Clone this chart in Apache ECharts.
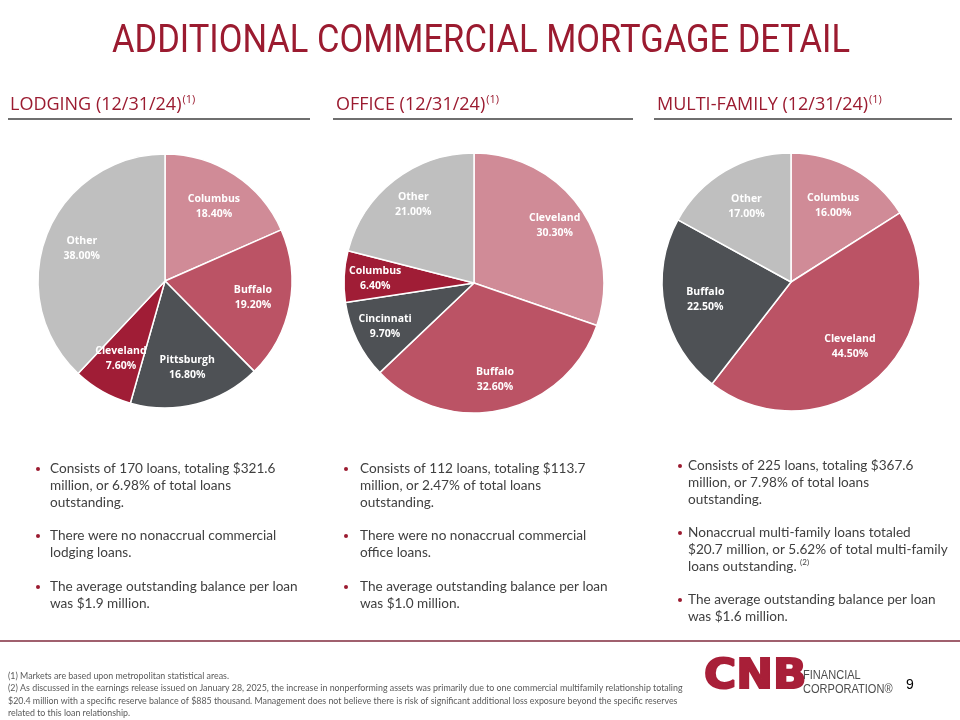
<!DOCTYPE html>
<html>
<head>
<meta charset="utf-8">
<script src="https://cdn.jsdelivr.net/npm/echarts@6/dist/echarts.min.js"></script>
<style>
html,body{margin:0;padding:0;background:#fff;}
#chart{width:960px;height:720px;}
</style>
</head>
<body>
<div id="chart"></div>
<script>
// ---- Data ----
const lodgingCats = ['Columbus', 'Buffalo', 'Pittsburgh', 'Cleveland', 'Other'];
const lodgingVals = [18.4, 19.2, 16.8, 7.6, 38.0];
const officeCats = ['Cleveland', 'Buffalo', 'Cincinnati', 'Columbus', 'Other'];
const officeVals = [30.3, 32.6, 9.7, 6.4, 21.0];
const multiCats = ['Columbus', 'Cleveland', 'Buffalo', 'Other'];
const multiVals = [16.0, 44.5, 22.5, 17.0];

const sectionTitles = ['LODGING (12/31/24)', 'OFFICE (12/31/24)', 'MULTI-FAMILY (12/31/24)'];

// ---- Styles ----
const LIGHT = '#d08b97', MED = '#bb5365', DARK = '#4e5155', DEEP = '#a01d36', GREY = '#bfbfbf';
const RED = '#9b1b30';
const lodgingColors = [LIGHT, MED, DARK, DEEP, GREY];
const officeColors = [LIGHT, MED, DARK, DEEP, GREY];
const multiColors = [LIGHT, MED, DARK, GREY];

function mk(cats, vals, colors) {
  return cats.map((c, i) => ({ name: c, value: vals[i], itemStyle: { color: colors[i] } }));
}

function pieSeries(cats, vals, colors, center, r, labelInner) {
  return [
    {
      type: 'pie', center: center, radius: [0, r], startAngle: 90, clockwise: true,
      data: mk(cats, vals, colors), label: { show: false }, labelLine: { show: false },
      itemStyle: { borderColor: '#fff', borderWidth: 1.5 }, silent: true, animation: false
    },
    {
      type: 'pie', center: center, radius: [labelInner, r], startAngle: 90, clockwise: true,
      data: cats.map((c, i) => ({ name: c, value: vals[i] })),
      itemStyle: { color: 'rgba(0,0,0,0)' }, silent: true, animation: false,
      labelLine: { show: false },
      label: {
        show: true, position: 'inside', color: '#fff', fontWeight: 'bold',
        fontFamily: 'Open Sans', fontSize: 10.5, lineHeight: 15,
        formatter: p => p.name + '\n' + p.value.toFixed(2) + '%'
      }
    }
  ];
}

const bodyFont = 'Lato';
const bulletText = [
  [
    ['Consists of 170 loans, totaling $321.6', 'million, or 6.98% of total loans', 'outstanding.'],
    ['There were no nonaccrual commercial', 'lodging loans.'],
    ['The average outstanding balance per loan', 'was $1.9 million.']
  ],
  [
    ['Consists of 112 loans, totaling $113.7', 'million, or 2.47% of total loans', 'outstanding.'],
    ['There were no nonaccrual commercial', 'office loans.'],
    ['The average outstanding balance per loan', 'was $1.0 million.']
  ],
  [
    ['Consists of 225 loans, totaling $367.6', 'million, or 7.98% of total loans', 'outstanding.'],
    ['Nonaccrual multi-family loans totaled', '$20.7 million, or 5.62% of total multi-family', 'loans outstanding. {sup|(2)}'],
    ['The average outstanding balance per loan', 'was $1.6 million.']
  ]
];
const bulletX = [38, 346, 680];
const bulletTextX = [50, 360, 688];
const bulletTops = [[460, 527, 578], [460, 527, 578], [457, 524, 591]];

const graphics = [];
// Title
graphics.push({
  type: 'text', x: 481, y: 23, scaleX: 0.885,
  style: { text: 'ADDITIONAL COMMERCIAL MORTGAGE DETAIL', fill: RED, align: 'center', verticalAlign: 'top',
    font: '39px "Roboto", sans-serif' }
});
// Section headers and underlines
const hdrX = [10, 336, 657];
const lineSeg = [[8, 310], [333, 633], [654, 952]];
for (let i = 0; i < 3; i++) {
  graphics.push({
    type: 'text', x: hdrX[i], y: 94,
    style: {
      text: sectionTitles[i] + '{sup|(1)}', fill: RED,
      font: '18px "Open Sans", sans-serif',
      rich: { sup: { fontSize: 11, fill: RED, fontFamily: 'Open Sans', verticalAlign: 'top', padding: [0, 0, 10, 1] } }
    }
  });
  graphics.push({
    type: 'line', shape: { x1: lineSeg[i][0], y1: 119, x2: lineSeg[i][1], y2: 119 },
    style: { stroke: '#6f6f6f', lineWidth: 2 }
  });
}
// Bullets
for (let c = 0; c < 3; c++) {
  bulletText[c].forEach((lines, b) => {
    const top = bulletTops[c][b];
    graphics.push({
      type: 'circle', shape: { cx: bulletX[c], cy: top + 9, r: 2 }, style: { fill: RED }
    });
    graphics.push({
      type: 'text', x: bulletTextX[c], y: top,
      style: {
        text: lines.join('\n'), fill: '#404040', font: '13.6px ' + bodyFont + ', sans-serif', lineHeight: 17,
        rich: { sup: { fontSize: 8, fill: '#404040', fontFamily: bodyFont, padding: [0, 0, 8, 0] } }
      }
    });
  });
}
// Bottom separator
graphics.push({
  type: 'line', shape: { x1: 0, y1: 641, x2: 960, y2: 641 },
  style: { stroke: '#a0606e', lineWidth: 2 }
});
// Footnotes
graphics.push({
  type: 'text', x: 8, y: 670,
  style: {
    text: '(1) Markets are based upon metropolitan statistical areas.\n' +
      '(2) As discussed in the earnings release issued on January 28, 2025, the increase in nonperforming assets was primarily due to one commercial multifamily relationship totaling\n' +
      '$20.4 million with a specific reserve balance of $885 thousand. Management does not believe there is risk of significant additional loss exposure beyond the specific reserves\n' +
      'related to this loan relationship.',
    fill: '#5a5a5a', font: '8.85px ' + bodyFont + ', sans-serif', lineHeight: 12.3
  }
});
// Logo
graphics.push({
  type: 'text', x: 704, y: 677, scaleX: 1.07,
  style: { text: 'CNB', fill: '#a81f38', stroke: '#a81f38', lineWidth: 2, verticalAlign: 'middle',
    font: 'bold 41px "DejaVu Sans", sans-serif' }
});
graphics.push({
  type: 'text', x: 803, y: 668, scaleX: 0.85,
  style: { text: 'FINANCIAL\nCORPORATION®', fill: '#4d4d4d', font: '13px "Liberation Sans", sans-serif', lineHeight: 14 }
});
graphics.push({
  type: 'text', x: 906, y: 678,
  style: { text: '9', fill: '#000', font: '14px "Liberation Sans", sans-serif' }
});

const chart = echarts.init(document.getElementById('chart'), null, { renderer: 'canvas' });
chart.setOption({
  animation: false,
  backgroundColor: '#fff',
  graphic: graphics,
  series: [
    ...pieSeries(lodgingCats, lodgingVals, lodgingColors, [165, 281], 127, 46),
    ...pieSeries(officeCats, officeVals, officeColors, [474, 283], 130, 62),
    ...pieSeries(multiCats, multiVals, multiColors, [791, 282], 129, 40)
  ]
});
</script>
</body>
</html>
